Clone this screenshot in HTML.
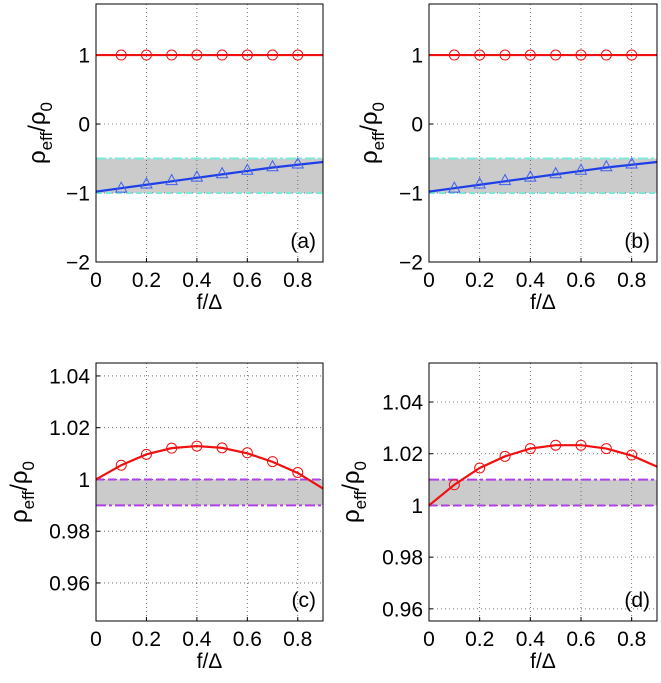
<!DOCTYPE html>
<html><head><meta charset="utf-8"><style>
body{margin:0;background:#fff;}
svg text{font-family:"Liberation Sans",sans-serif;fill:#000;}
</style></head><body>
<svg id="fig" width="661" height="678" viewBox="0 0 661 678" xmlns="http://www.w3.org/2000/svg"></svg>
<script>
// Panel data
const fTicks=[0,0.2,0.4,0.6,0.8];
const fTickLabels=["0","0.2","0.4","0.6","0.8"];
const markerF=[0.1,0.2,0.3,0.4,0.5,0.6,0.7,0.8];
const curveF=[0,0.1,0.2,0.3,0.4,0.5,0.6,0.7,0.8,0.9];
const aRedPts=[1,1,1,1,1,1,1,1];
const aRedCurve=[1,1,1,1,1,1,1,1,1,1];
const aBluePts=[-0.93,-0.87,-0.82,-0.77,-0.72,-0.67,-0.62,-0.58];
const aBlueCurve=[-0.98,-0.93,-0.88,-0.83,-0.78,-0.73,-0.68,-0.63,-0.59,-0.55];
const bRedPts=[1,1,1,1,1,1,1,1];
const bRedCurve=[1,1,1,1,1,1,1,1,1,1];
const bBluePts=[-0.93,-0.87,-0.82,-0.77,-0.72,-0.67,-0.62,-0.58];
const bBlueCurve=[-0.98,-0.93,-0.88,-0.83,-0.78,-0.73,-0.68,-0.63,-0.59,-0.55];
const cRedPts=[1.0055,1.0097,1.0121,1.0129,1.0122,1.0103,1.0069,1.0027];
const cRedCurve=[1.0,1.0055,1.0097,1.0121,1.0129,1.0122,1.0101,1.0068,1.0025,0.9965];
const dRedPts=[1.0080,1.0145,1.0190,1.0220,1.0233,1.0233,1.0220,1.0195];
const dRedCurve=[1.0,1.0080,1.0145,1.0190,1.0220,1.0233,1.0233,1.0220,1.0193,1.0150];
const abYTicks=[-2,-1,0,1];
const abYLabels=["\u22122","\u22121","0","1"];
const cYTicks=[0.96,0.98,1,1.02,1.04];
const cYLabels=["0.96","0.98","1","1.02","1.04"];
const dYTicks=[0.96,0.98,1,1.02,1.04];
const dYLabels=["0.96","0.98","1","1.02","1.04"];

const NS="http://www.w3.org/2000/svg";
const svg=document.getElementById('fig');
function el(tag,attrs,parent){const e=document.createElementNS(NS,tag);for(const k in attrs)e.setAttribute(k,attrs[k]);(parent||svg).appendChild(e);return e;}

function panel(p){
  const g=el('g',{});
  
  
  const X=v=>p.x0+(v-0)/(0.9)*(p.x1-p.x0);
  const Y=v=>p.y1-(v-p.ymin)/(p.ymax-p.ymin)*(p.y1-p.y0);
  const band=el('rect',{x:p.x0,y:Y(p.band[1]),width:p.x1-p.x0,height:Y(p.band[0])-Y(p.band[1]),fill:'#cbcbcb'},g);
  
  
  fTicks.forEach((t,i)=>{ if(t>0){const l=el('line',{x1:X(t),x2:X(t),y1:p.y0,y2:p.y1,stroke:'#555','stroke-width':0.8,'stroke-dasharray':'1,3'},g);
    }
    const tx=el('text',{x:X(t),y:p.y1+25,'font-size':21,'text-anchor':'middle'},g);tx.textContent=fTickLabels[i];
    
    el('line',{x1:X(t),x2:X(t),y1:p.y1,y2:p.y1-4,stroke:'#000'},g);
  });
  p.yt.forEach((t,i)=>{const y=Y(t);
    if(y>p.y0+2&&y<p.y1-2){const l=el('line',{x1:p.x0,x2:p.x1,y1:y,y2:y,stroke:'#555','stroke-width':0.8,'stroke-dasharray':'1,3'},g);
    }
    const tx=el('text',{x:p.x0-6,y:y+7.5,'font-size':21,'text-anchor':'end'},g);tx.textContent=p.yl[i];
    
    el('line',{x1:p.x0,x2:p.x0+4,y1:y,y2:y,stroke:'#000'},g);
  });
  p.bandLines.forEach(b=>{const l=el('line',{x1:p.x0,x2:p.x1,y1:Y(b.v),y2:Y(b.v),stroke:b.c,'stroke-width':2,'stroke-dasharray':b.d},g);
    });
  p.series.forEach(s=>{
    const pts=curveF.map((f,i)=>X(f)+','+Y(s.curve[i])).join(' ');
    const pl=el('polyline',{points:pts,fill:'none',stroke:s.c,'stroke-width':2.2},g);
    
    markerF.forEach((f,i)=>{const cx=X(f),cy=Y(s.pts[i]);let m;
      if(s.m==='o'){m=el('circle',{cx:cx,cy:cy,r:5,fill:'none',stroke:s.mc,'stroke-width':1},g);}
      else{m=el('polygon',{points:`${cx},${cy-6} ${cx-5.5},${cy+4} ${cx+5.5},${cy+4}`,fill:'none',stroke:s.mc,'stroke-width':1},g);}
      });
  });
  const fr=el('rect',{x:p.x0,y:p.y0,width:p.x1-p.x0,height:p.y1-p.y0,fill:'none',stroke:'#000','stroke-width':1},g);
  
  const tl=el('text',{x:p.x1-7,y:p.y1-14,'font-size':21,'text-anchor':'end'},g);tl.textContent='('+p.id+')';
  
  const xl=el('text',{x:(p.x0+p.x1)/2,y:p.y1+47,'font-size':21,'text-anchor':'middle'},g);xl.textContent='f/\u0394';
  
  const cy=(p.y0+p.y1)/2;
  const yl=el('text',{x:p.ylx,y:cy,'font-size':24,'text-anchor':'middle',transform:`rotate(-90 ${p.ylx} ${cy})`},g);
  yl.innerHTML='\u03C1<tspan font-size="17" dy="7">eff</tspan><tspan dy="-7">/\u03C1</tspan><tspan font-size="17" dy="7">0</tspan>';
  
}
const abLines=[{v:-0.5,c:'#7ee8d8',d:'10,3,3,3'},{v:-1,c:'#7ee8d8',d:'6,4'},{v:1,c:'#b040e8',d:'10,3,3,3'}];
panel({id:'a',x0:96,x1:323,y0:4,y1:262,ymin:-2,ymax:1.74,yt:abYTicks,yl:abYLabels,band:[-1,-0.5],bandLines:abLines,ylx:45,
  series:[{name:'red',c:'#f01010',mc:'#f01010',m:'o',pts:aRedPts,curve:aRedCurve},{name:'blue',c:'#1e3ee8',mc:'#4060f0',m:'^',pts:aBluePts,curve:aBlueCurve}]});
panel({id:'b',x0:429,x1:657,y0:4,y1:262,ymin:-2,ymax:1.74,yt:abYTicks,yl:abYLabels,band:[-1,-0.5],bandLines:abLines,ylx:377,
  series:[{name:'red',c:'#f01010',mc:'#f01010',m:'o',pts:bRedPts,curve:bRedCurve},{name:'blue',c:'#1e3ee8',mc:'#4060f0',m:'^',pts:bBluePts,curve:bBlueCurve}]});
panel({id:'c',x0:96,x1:323,y0:363,y1:621,ymin:0.9453,ymax:1.045,yt:cYTicks,yl:cYLabels,band:[0.99,1],ylx:27,
  bandLines:[{v:1,c:'#b040e8',d:'8,4'},{v:0.99,c:'#b040e8',d:'10,3,3,3'}],
  series:[{name:'red',c:'#f01010',mc:'#f01010',m:'o',pts:cRedPts,curve:cRedCurve}]});
panel({id:'d',x0:429,x1:657,y0:363,y1:621,ymin:0.9553,ymax:1.0551,yt:dYTicks,yl:dYLabels,band:[1,1.01],ylx:359,
  bandLines:[{v:1.01,c:'#b040e8',d:'10,3,3,3'},{v:1,c:'#b040e8',d:'8,4'}],
  series:[{name:'red',c:'#f01010',mc:'#f01010',m:'o',pts:dRedPts,curve:dRedCurve}]});
</script>
</body></html>
